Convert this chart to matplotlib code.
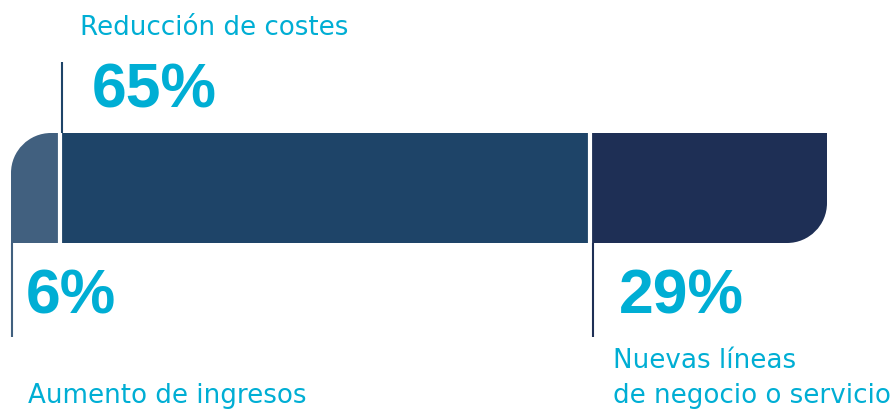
import matplotlib.pyplot as plt
from matplotlib.path import Path

categorias = ['Aumento de ingresos', 'Reducción de costes', 'Nuevas líneas\nde negocio o servicio']
valores = [6, 65, 29]
etiquetas = ['6%', '65%', '29%']
colores = ['#41607f', '#1e4468', '#1e2f55']
cian = '#00aed4'

W, H = 895, 409
fig = plt.figure(figsize=(W / 100, H / 100), dpi=100)
ax = fig.add_axes([0, 0, 1, 1])
px = 8.16  # pixeles por punto porcentual
ax.set_xlim(-11 / px, (W - 11) / px)
ax.set_ylim(H, 0)  # eje y en pixeles, hacia abajo
ax.axis('off')

yc, alto = 188, 110
arriba, abajo = yc - alto / 2, yc + alto / 2
izq = [sum(valores[:i]) for i in range(len(valores))]
total = sum(valores)

barras = ax.barh(yc, valores, left=izq, height=alto, color=colores)

# contorno con esquina superior izquierda e inferior derecha redondeadas
rx, ry, k = 40 / px, 40, 0.5523
verts = [(0, abajo), (0, arriba + ry),
         (0, arriba + ry * (1 - k)), (rx * (1 - k), arriba), (rx, arriba),
         (total, arriba), (total, abajo - ry),
         (total, abajo - ry * (1 - k)), (total - rx * (1 - k), abajo), (total - rx, abajo),
         (0, abajo), (0, abajo)]
codes = [Path.MOVETO, Path.LINETO,
         Path.CURVE4, Path.CURVE4, Path.CURVE4,
         Path.LINETO, Path.LINETO,
         Path.CURVE4, Path.CURVE4, Path.CURVE4,
         Path.LINETO, Path.CLOSEPOLY]
contorno = Path(verts, codes)
for b in barras:
    b.set_clip_path(contorno, ax.transData)

# separaciones blancas entre segmentos
ax.vlines(izq[1:], arriba - 1, abajo + 1, color='white', lw=3)

# lineas guia
ax.vlines(izq[0] + 1 / px, abajo, 337, color=colores[0], lw=1.5)
ax.vlines(izq[1] + 2.5 / px, 62, arriba, color=colores[1], lw=1.5)
ax.vlines(izq[2] + 2.5 / px, abajo, 337, color=colores[2], lw=1.5)

def t(x, y, s, **kw):
    fig.text(x / W, 1 - y / H, s, color=cian, va='baseline', ha='left', **kw)

etq = dict(fontsize=18.8, family='DejaVu Sans')
num = dict(fontsize=45, family='Liberation Sans', fontweight='bold')

t(80, 35, categorias[1], **etq)
t(92, 107, etiquetas[1], **num)
t(26, 313, etiquetas[0], **num)
t(28, 403, categorias[0], **etq)
t(619, 313, etiquetas[2], **num)
lineas = categorias[2].split('\n')
t(613, 368, lineas[0], **etq)
t(613, 403, lineas[1], **etq)

fig.savefig('out.png', dpi=100)
